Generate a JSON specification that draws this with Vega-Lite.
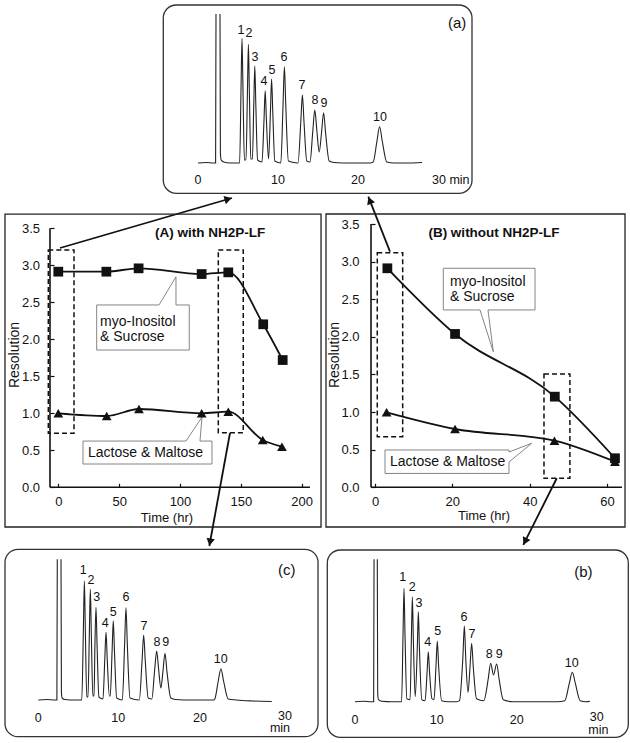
{
"$schema":"https://vega.github.io/schema/vega-lite/v6.json",
"padding":0,
"bounds":"flush",
"spacing":0,
"config":{"view":{"stroke":null},"font":"Liberation Sans","axis":{"grid":false,"domain":false,"labelFont":"Liberation Sans","labelFontSize":13,"labelColor":"#111","tickColor":"#111","tickWidth":1.2,"labelFlush":false,"labelOverlap":false,"titleOpacity":0}},
"datasets":{
"ca":[{"t":0,"h":0,"s":1},{"t":1,"h":0.5,"s":1},{"t":2,"h":0,"s":1},{"t":2.2,"h":0,"s":1},{"t":2.25,"h":149,"s":1},
{"t":2.75,"h":149,"s":2},{"t":2.8,"h":10,"s":2},{"t":2.9,"h":3,"s":2},{"t":3.2,"h":1,"s":2},{"t":4,"h":0,"s":2},{"t":5,"h":0,"s":2},{"t":5.2,"h":0,"s":2},{"t":5.38,"h":75,"s":2},{"t":5.5,"h":124.7,"s":2},{"t":5.62,"h":75,"s":2},{"t":5.8,"h":3,"s":2},{"t":6.0,"h":3,"s":2},{"t":6.18,"h":71,"s":2},{"t":6.3,"h":118.7,"s":2},{"t":6.42,"h":71,"s":2},{"t":6.6,"h":4,"s":2},{"t":6.8,"h":4,"s":2},{"t":6.97,"h":58,"s":2},{"t":7.1,"h":97,"s":2},{"t":7.23,"h":58,"s":2},{"t":7.45,"h":3,"s":2},{"t":8.0,"h":1,"s":2},{"t":8.25,"h":43,"s":2},{"t":8.4,"h":72.3,"s":2},{"t":8.55,"h":43,"s":2},{"t":8.82,"h":4,"s":2},{"t":9.05,"h":50,"s":2},{"t":9.2,"h":84,"s":2},{"t":9.35,"h":50,"s":2},{"t":9.6,"h":2,"s":2},{"t":10.35,"h":0,"s":2},{"t":10.63,"h":58,"s":2},{"t":10.8,"h":96.3,"s":2},{"t":10.97,"h":58,"s":2},{"t":11.3,"h":2,"s":2},{"t":12.5,"h":0,"s":2},{"t":12.85,"h":41,"s":2},{"t":13.05,"h":68,"s":2},{"t":13.25,"h":41,"s":2},{"t":13.6,"h":2,"s":2},{"t":14.0,"h":1,"s":2},{"t":14.35,"h":32,"s":2},{"t":14.6,"h":53,"s":2},{"t":14.85,"h":33,"s":2},{"t":15.15,"h":11,"s":2},{"t":15.45,"h":31,"s":2},{"t":15.7,"h":50.3,"s":2},{"t":15.95,"h":30,"s":2},{"t":16.4,"h":2,"s":2},{"t":17,"h":0.5,"s":2},{"t":19,"h":0,"s":2},{"t":21.5,"h":0,"s":2},{"t":21.9,"h":1,"s":2},{"t":22.37,"h":22,"s":2},{"t":22.7,"h":36.3,"s":2},{"t":23.03,"h":22,"s":2},{"t":23.6,"h":1,"s":2},{"t":24.5,"h":0,"s":2},{"t":26,"h":0,"s":2},{"t":28,"h":0.5,"s":2}],
"cb":[{"t":0,"h":0,"s":1},{"t":1,"h":0.5,"s":1},{"t":2,"h":0,"s":1},{"t":2.3,"h":0,"s":1},{"t":2.35,"h":142.4,"s":1},
{"t":2.75,"h":142.4,"s":2},{"t":2.8,"h":8,"s":2},{"t":2.9,"h":2,"s":2},{"t":3.3,"h":0.5,"s":2},{"t":4.5,"h":0,"s":2},{"t":5.75,"h":0,"s":2},{"t":5.93,"h":68,"s":2},{"t":6.05,"h":113.4,"s":2},{"t":6.17,"h":68,"s":2},{"t":6.4,"h":3,"s":2},{"t":6.8,"h":2,"s":2},{"t":6.96,"h":63,"s":2},{"t":7.08,"h":105,"s":2},{"t":7.2,"h":63,"s":2},{"t":7.43,"h":5,"s":2},{"t":7.69,"h":54,"s":2},{"t":7.82,"h":90,"s":2},{"t":7.95,"h":54,"s":2},{"t":8.25,"h":2,"s":2},{"t":8.65,"h":1,"s":2},{"t":8.9,"h":30,"s":2},{"t":9.05,"h":50,"s":2},{"t":9.2,"h":30,"s":2},{"t":9.5,"h":3,"s":2},{"t":9.75,"h":2,"s":2},{"t":10.0,"h":36,"s":2},{"t":10.16,"h":60.7,"s":2},{"t":10.32,"h":36,"s":2},{"t":10.7,"h":1,"s":2},{"t":11.5,"h":0,"s":2},{"t":12.6,"h":0,"s":2},{"t":12.9,"h":1,"s":2},{"t":13.32,"h":45,"s":2},{"t":13.5,"h":75.7,"s":2},{"t":13.68,"h":42,"s":2},{"t":13.95,"h":9.4,"s":2},{"t":14.2,"h":35,"s":2},{"t":14.4,"h":58.4,"s":2},{"t":14.6,"h":35,"s":2},{"t":15.0,"h":3,"s":2},{"t":15.9,"h":1,"s":2},{"t":16.45,"h":23,"s":2},{"t":16.75,"h":38.4,"s":2},{"t":17.1,"h":26.7,"s":2},{"t":17.49,"h":37.7,"s":2},{"t":17.8,"h":22,"s":2},{"t":18.3,"h":2,"s":2},{"t":19.5,"h":0,"s":2},{"t":22,"h":0,"s":2},{"t":25,"h":0,"s":2},{"t":25.9,"h":1,"s":2},{"t":26.45,"h":18,"s":2},{"t":26.83,"h":29.4,"s":2},{"t":27.21,"h":18,"s":2},{"t":27.8,"h":1,"s":2},{"t":28.5,"h":0,"s":2},{"t":29,"h":0.5,"s":2}],
"cc":[{"t":0,"h":0,"s":1},{"t":1,"h":0.5,"s":1},{"t":2.1,"h":0,"s":1},{"t":2.3,"h":0,"s":1},{"t":2.35,"h":140.7,"s":1},
{"t":2.81,"h":140.7,"s":2},{"t":2.86,"h":8,"s":2},{"t":2.95,"h":2,"s":2},{"t":3.3,"h":0.5,"s":2},{"t":4.5,"h":0,"s":2},{"t":5.38,"h":0,"s":2},{"t":5.58,"h":71,"s":2},{"t":5.7,"h":119,"s":2},{"t":5.82,"h":71,"s":2},{"t":6.0,"h":3,"s":2},{"t":6.15,"h":3,"s":2},{"t":6.32,"h":67,"s":2},{"t":6.44,"h":111,"s":2},{"t":6.56,"h":67,"s":2},{"t":6.75,"h":4,"s":2},{"t":6.9,"h":4,"s":2},{"t":7.01,"h":56,"s":2},{"t":7.14,"h":92.7,"s":2},{"t":7.27,"h":56,"s":2},{"t":7.5,"h":3,"s":2},{"t":8.0,"h":1,"s":2},{"t":8.23,"h":41,"s":2},{"t":8.38,"h":67.7,"s":2},{"t":8.53,"h":41,"s":2},{"t":8.8,"h":4,"s":2},{"t":8.9,"h":4,"s":2},{"t":9.13,"h":48,"s":2},{"t":9.28,"h":79.3,"s":2},{"t":9.43,"h":48,"s":2},{"t":9.7,"h":2,"s":2},{"t":10.4,"h":0,"s":2},{"t":10.68,"h":55,"s":2},{"t":10.85,"h":92.3,"s":2},{"t":11.02,"h":55,"s":2},{"t":11.35,"h":2,"s":2},{"t":12.5,"h":0,"s":2},{"t":12.84,"h":39,"s":2},{"t":13.04,"h":65,"s":2},{"t":13.24,"h":39,"s":2},{"t":13.6,"h":2,"s":2},{"t":14.05,"h":1,"s":2},{"t":14.4,"h":30,"s":2},{"t":14.65,"h":49,"s":2},{"t":14.9,"h":30,"s":2},{"t":15.17,"h":12,"s":2},{"t":15.43,"h":29,"s":2},{"t":15.68,"h":46.7,"s":2},{"t":15.93,"h":28,"s":2},{"t":16.4,"h":2,"s":2},{"t":17,"h":0.5,"s":2},{"t":19,"h":0,"s":2},{"t":21.7,"h":0,"s":2},{"t":21.85,"h":1,"s":2},{"t":22.27,"h":19,"s":2},{"t":22.6,"h":31.3,"s":2},{"t":22.93,"h":19,"s":2},{"t":23.5,"h":1,"s":2},{"t":24.5,"h":0,"s":2},{"t":26.5,"h":-1,"s":2},{"t":28.9,"h":-1.5,"s":2}],
"la":[{"t":5.375,"h":133,"label":"1"},{"t":6.375,"h":130,"label":"2"},{"t":7.125,"h":106,"label":"3"},{"t":8.25,"h":82,"label":"4"},{"t":9.25,"h":93,"label":"5"},{"t":10.75,"h":106,"label":"6"},{"t":13,"h":78,"label":"7"},{"t":14.625,"h":63,"label":"8"},{"t":15.75,"h":60,"label":"9"},{"t":22.75,"h":46,"label":"10"},{"t":0,"h":-17,"label":"0"},{"t":10,"h":-17,"label":"10"},{"t":20,"h":-17,"label":"20"},{"t":31.6,"h":-17,"label":"30 min"}],
"lc":[{"t":5.57,"h":130,"label":"1"},{"t":6.52,"h":120,"label":"2"},{"t":7.23,"h":103.3,"label":"3"},{"t":8.29,"h":76.7,"label":"4"},{"t":9.28,"h":88.3,"label":"5"},{"t":10.85,"h":102.7,"label":"6"},{"t":13.08,"h":74,"label":"7"},{"t":14.69,"h":58.3,"label":"8"},{"t":15.77,"h":57.7,"label":"9"},{"t":22.57,"h":40.7,"label":"10"},{"t":0,"h":-18.3,"label":"0"},{"t":9.9,"h":-18.3,"label":"10"},{"t":20.01,"h":-18.3,"label":"20"},{"t":30.53,"h":-15.5,"label":"30"},{"t":29.91,"h":-28,"label":"min"}],
"lb":[{"t":5.89,"h":124.4,"label":"1"},{"t":7.07,"h":115,"label":"2"},{"t":7.9,"h":98.4,"label":"3"},{"t":8.98,"h":60,"label":"4"},{"t":10.21,"h":71,"label":"5"},{"t":13.46,"h":85,"label":"6"},{"t":14.44,"h":67.7,"label":"7"},{"t":16.58,"h":47.7,"label":"8"},{"t":17.81,"h":47.7,"label":"9"},{"t":26.75,"h":39,"label":"10"},{"t":0,"h":-18.3,"label":"0"},{"t":10.09,"h":-18.3,"label":"10"},{"t":19.96,"h":-18.3,"label":"20"},{"t":29.84,"h":-15.5,"label":"30"},{"t":30.04,"h":-28,"label":"min"}],
"pa":[{"t":32.4,"h":140,"label":"(a)"}],
"pc":[{"t":30.74,"h":130,"label":"(c)"}],
"pb":[{"t":28.19,"h":130,"label":"(b)"}],
"fa":[{"t":-4.34,"t2":34.25,"h":158,"h2":-30.3}],
"fc":[{"t":-4.12,"t2":34.62,"h":150.7,"h2":-36.7}],
"fb":[{"t":-3.42,"t2":33.74,"h":151.7,"h2":-35.6}],
"ara":[{"t":-17.25,"h":-85,"t2":4.25,"h2":-35},{"t":24,"h":-88.7,"t2":21.29,"h2":-33.7}],
"hda1":[{"t":3.77,"h":-36.1}],
"hda2":[{"t":21.47,"h":-37.4}],
"frA":[{"hr":-43.8,"hr2":215.9,"r":3.693,"r2":-0.536}],
"frB":[{"hr":-12.67,"hr2":64.65,"r":3.634,"r2":-0.528}],
"axA":[{"hr":-6.82,"r":0,"hr2":-6.82,"r2":3.5},{"hr":-6.82,"r":0,"hr2":206.8,"r2":0}],
"axB":[{"hr":-1.03,"r":0,"hr2":-1.03,"r2":3.5},{"hr":-1.03,"r":0,"hr2":63.87,"r2":0}],
"dA":[{"hr":-8.2,"hr2":12.9,"r":3.207,"r2":0.73},{"hr":131.5,"hr2":152.0,"r":3.207,"r2":0.738}],
"dB":[{"hr":0.59,"hr2":7.16,"r":3.12,"r2":0.673},{"hr":43.7,"hr2":50.4,"r":1.507,"r2":0.12}],
"resA":[{"hr":0,"r":1.0,"pair":"Lactose & Maltose"},{"hr":39.8,"r":0.964,"pair":"Lactose & Maltose"},{"hr":66.3,"r":1.058,"pair":"Lactose & Maltose"},{"hr":117.8,"r":1.0,"pair":"Lactose & Maltose"},{"hr":139.7,"r":1.022,"pair":"Lactose & Maltose"},{"hr":168,"r":0.639,"pair":"Lactose & Maltose"},{"hr":183.8,"r":0.549,"pair":"Lactose & Maltose"},
{"hr":0,"r":2.914,"pair":"myo-Inositol & Sucrose"},{"hr":39.5,"r":2.914,"pair":"myo-Inositol & Sucrose"},{"hr":66,"r":2.959,"pair":"myo-Inositol & Sucrose"},{"hr":117.8,"r":2.882,"pair":"myo-Inositol & Sucrose"},{"hr":139.7,"r":2.905,"pair":"myo-Inositol & Sucrose"},{"hr":168.4,"r":2.203,"pair":"myo-Inositol & Sucrose"},{"hr":184.4,"r":1.72,"pair":"myo-Inositol & Sucrose"}],
"resB":[{"hr":3.0,"r":0.997,"pair":"Lactose & Maltose"},{"hr":20.7,"r":0.775,"pair":"Lactose & Maltose"},{"hr":46.4,"r":0.62,"pair":"Lactose & Maltose"},{"hr":62.06,"r":0.34,"pair":"Lactose & Maltose"},
{"hr":3.2,"r":2.912,"pair":"myo-Inositol & Sucrose"},{"hr":20.7,"r":2.039,"pair":"myo-Inositol & Sucrose"},{"hr":46.5,"r":1.205,"pair":"myo-Inositol & Sucrose"},{"hr":62.06,"r":0.386,"pair":"myo-Inositol & Sucrose"}],
"coA":[{"hr":31.55,"r":2.464,"id":1,"i":1},{"hr":82.74,"r":2.464,"id":1,"i":2},{"hr":96.71,"r":2.845,"id":1,"i":3},{"hr":96.71,"r":2.464,"id":1,"i":4},{"hr":107.64,"r":2.464,"id":1,"i":5},{"hr":107.64,"r":1.855,"id":1,"i":6},{"hr":31.55,"r":1.855,"id":1,"i":7},{"hr":31.55,"r":2.464,"id":1,"i":8},
{"hr":20.3,"r":0.625,"id":2,"i":1},{"hr":104.93,"r":0.625,"id":2,"i":2},{"hr":118.08,"r":0.949,"id":2,"i":3},{"hr":116.43,"r":0.625,"id":2,"i":4},{"hr":126.29,"r":0.625,"id":2,"i":5},{"hr":126.29,"r":0.315,"id":2,"i":6},{"hr":20.3,"r":0.315,"id":2,"i":7},{"hr":20.3,"r":0.625,"id":2,"i":8}],
"coB":[{"hr":17.66,"r":2.912,"id":1,"i":1},{"hr":41.38,"r":2.912,"id":1,"i":2},{"hr":41.38,"r":2.358,"id":1,"i":3},{"hr":29.22,"r":2.358,"id":1,"i":4},{"hr":30.59,"r":1.803,"id":1,"i":5},{"hr":27.15,"r":2.358,"id":1,"i":6},{"hr":17.66,"r":2.358,"id":1,"i":7},{"hr":17.66,"r":2.912,"id":1,"i":8},
{"hr":2.586,"r":0.496,"id":2,"i":1},{"hr":34.65,"r":0.496,"id":2,"i":2},{"hr":34.65,"r":0.469,"id":2,"i":3},{"hr":40.52,"r":0.585,"id":2,"i":4},{"hr":34.65,"r":0.336,"id":2,"i":5},{"hr":34.65,"r":0.184,"id":2,"i":6},{"hr":2.586,"r":0.184,"id":2,"i":7},{"hr":2.586,"r":0.496,"id":2,"i":8}],
"ctA":[{"hr":34.3,"r":2.23,"text":"myo-Inositol"},{"hr":34.3,"r":2.027,"text":"& Sucrose"},{"hr":24.4,"r":0.464,"text":"Lactose & Maltose"}],
"ctB":[{"hr":19.4,"r":2.73,"text":"myo-Inositol"},{"hr":19.4,"r":2.524,"text":"& Sucrose"},{"hr":3.88,"r":0.34,"text":"Lactose & Maltose"}],
"ttA":[{"hr":124.7,"r":3.436,"text":"(A) with NH2P-LF"}],
"ttB":[{"hr":30.77,"r":3.378,"text":"(B) without NH2P-LF"}],
"atA":[{"hr":89.3,"r":-0.41,"text":"Time (hr)"}],
"atB":[{"hr":28.2,"r":-0.38,"text":"Time (hr)"}],
"rtA":[{"hr":-35.6,"r":1.788,"text":"Resolution"}],
"rtB":[{"hr":-10.34,"r":1.759,"text":"Resolution"}],
"arA":[{"hr":141.1,"r":0.734,"hr2":124.1,"r2":-0.793}],
"hdA":[{"hr":124.7,"r":-0.74}],
"arB":[{"hr":47.0,"r":0.12,"hr2":38.35,"r2":-0.767}],
"hdB":[{"hr":38.8,"r":-0.72}]
},
"vconcat":[
{"width":630,"height":207,
 "layer":[
  {"data":{"name":"fa"},"mark":{"type":"rect","filled":false,"stroke":"#333","strokeWidth":1.3,"cornerRadius":13},
   "encoding":{"x":{"field":"t","type":"quantitative","scale":{"domain":[-24.75,54],"nice":false,"zero":false},"axis":null},"x2":{"field":"t2"},"y":{"field":"h","type":"quantitative","scale":{"domain":[-44,163],"nice":false,"zero":false},"axis":null},"y2":{"field":"h2"}}},
  {"data":{"name":"ca"},"mark":{"type":"line","interpolate":"monotone","color":"#222","strokeWidth":1.1},
   "encoding":{"x":{"field":"t","type":"quantitative","axis":null},"y":{"field":"h","type":"quantitative","axis":null},"detail":{"field":"s","type":"nominal"}}},
  {"data":{"name":"la"},"mark":{"type":"text","fontSize":12.5,"color":"#111"},
   "encoding":{"x":{"field":"t","type":"quantitative","axis":null},"y":{"field":"h","type":"quantitative","axis":null},"text":{"field":"label"}}},
  {"data":{"name":"pa"},"mark":{"type":"text","fontSize":15,"color":"#111"},
   "encoding":{"x":{"field":"t","type":"quantitative","axis":null},"y":{"field":"h","type":"quantitative","axis":null},"text":{"field":"label"}}},
  {"data":{"name":"ara"},"mark":{"type":"rule","color":"#111","strokeWidth":1.8},
   "encoding":{"x":{"field":"t","type":"quantitative","axis":null},"x2":{"field":"t2"},"y":{"field":"h","type":"quantitative","axis":null},"y2":{"field":"h2"}}},
  {"data":{"name":"hda1"},"mark":{"type":"point","shape":"triangle-up","filled":true,"color":"#111","size":70,"angle":73.8,"opacity":1},
   "encoding":{"x":{"field":"t","type":"quantitative","axis":null},"y":{"field":"h","type":"quantitative","axis":null}}},
  {"data":{"name":"hda2"},"mark":{"type":"point","shape":"triangle-up","filled":true,"color":"#111","size":70,"angle":338.5,"opacity":1},
   "encoding":{"x":{"field":"t","type":"quantitative","axis":null},"y":{"field":"h","type":"quantitative","axis":null}}}
 ]},
{"width":630,"height":333,
 "resolve":{"scale":{"x":"independent","y":"independent"},"axis":{"x":"independent","y":"independent"}},
 "layer":[
 {"layer":[
   {"data":{"name":"frA"},"mark":{"type":"rect","filled":false,"stroke":"#222","strokeWidth":1.3},
    "encoding":{"x":{"field":"hr","type":"quantitative","scale":{"domain":[-47.9,469.8],"nice":false,"zero":false},"axis":{"orient":"bottom","offset":-52.7,"values":[0,50,100,150,200],"title":null,"labelPadding":12,"tickSize":-4}},"x2":{"field":"hr2"},"y":{"field":"r","type":"quantitative","scale":{"domain":[-0.712,3.788],"nice":false,"zero":false},"axis":{"orient":"left","offset":-50,"values":[0,0.5,1,1.5,2,2.5,3,3.5],"format":".1f","title":null,"labelPadding":14.5,"tickSize":-4}},"y2":{"field":"r2"}}},
   {"data":{"name":"axA"},"mark":{"type":"rule","color":"#111","strokeWidth":1.6},
    "encoding":{"x":{"field":"hr","type":"quantitative"},"x2":{"field":"hr2"},"y":{"field":"r","type":"quantitative"},"y2":{"field":"r2"}}},
   {"data":{"name":"dA"},"mark":{"type":"rect","filled":false,"stroke":"#111","strokeWidth":1.5,"strokeDash":[5,3]},
    "encoding":{"x":{"field":"hr","type":"quantitative"},"x2":{"field":"hr2"},"y":{"field":"r","type":"quantitative"},"y2":{"field":"r2"}}},
   {"data":{"name":"coA"},"mark":{"type":"line","color":"#777","strokeWidth":0.9},
    "encoding":{"x":{"field":"hr","type":"quantitative"},"y":{"field":"r","type":"quantitative"},"detail":{"field":"id","type":"nominal"},"order":{"field":"i","type":"quantitative"}}},
   {"data":{"name":"ctA"},"mark":{"type":"text","align":"left","fontSize":14,"color":"#111"},
    "encoding":{"x":{"field":"hr","type":"quantitative"},"y":{"field":"r","type":"quantitative"},"text":{"field":"text"}}},
   {"data":{"name":"resA"},"mark":{"type":"line","interpolate":"monotone","color":"#111","strokeWidth":1.8},
    "encoding":{"x":{"field":"hr","type":"quantitative"},"y":{"field":"r","type":"quantitative"},"detail":{"field":"pair","type":"nominal"}}},
   {"data":{"name":"resA"},"mark":{"type":"point","filled":true,"color":"#111","opacity":1,"size":95},
    "encoding":{"x":{"field":"hr","type":"quantitative"},"y":{"field":"r","type":"quantitative"},"shape":{"field":"pair","type":"nominal","scale":{"domain":["myo-Inositol & Sucrose","Lactose & Maltose"],"range":["square","triangle-up"]},"legend":null}}},
   {"data":{"name":"ttA"},"mark":{"type":"text","fontSize":13.5,"fontWeight":"bold","color":"#111"},
    "encoding":{"x":{"field":"hr","type":"quantitative"},"y":{"field":"r","type":"quantitative"},"text":{"field":"text"}}},
   {"data":{"name":"atA"},"mark":{"type":"text","fontSize":13,"color":"#111"},
    "encoding":{"x":{"field":"hr","type":"quantitative"},"y":{"field":"r","type":"quantitative"},"text":{"field":"text"}}},
   {"data":{"name":"rtA"},"mark":{"type":"text","fontSize":14,"angle":270,"color":"#111"},
    "encoding":{"x":{"field":"hr","type":"quantitative"},"y":{"field":"r","type":"quantitative"},"text":{"field":"text"}}},
   {"data":{"name":"arA"},"mark":{"type":"rule","color":"#111","strokeWidth":1.8},
    "encoding":{"x":{"field":"hr","type":"quantitative"},"x2":{"field":"hr2"},"y":{"field":"r","type":"quantitative"},"y2":{"field":"r2"}}},
   {"data":{"name":"hdA"},"mark":{"type":"point","shape":"triangle-up","filled":true,"color":"#111","size":70,"angle":190.4,"opacity":1},
    "encoding":{"x":{"field":"hr","type":"quantitative"},"y":{"field":"r","type":"quantitative"}}}
 ]},
 {"layer":[
   {"data":{"name":"frB"},"mark":{"type":"rect","filled":false,"stroke":"#222","strokeWidth":1.3},
    "encoding":{"x":{"field":"hr","type":"quantitative","scale":{"domain":[-96.97,65.94],"nice":false,"zero":false},"axis":{"orient":"bottom","offset":-52.7,"values":[0,20,40,60],"title":null,"labelPadding":12,"tickSize":-4}},"x2":{"field":"hr2"},"y":{"field":"r","type":"quantitative","scale":{"domain":[-0.701,3.727],"nice":false,"zero":false},"axis":{"orient":"left","offset":-371,"values":[0,0.5,1,1.5,2,2.5,3,3.5],"format":".1f","title":null,"labelPadding":16,"tickSize":-4}},"y2":{"field":"r2"}}},
   {"data":{"name":"axB"},"mark":{"type":"rule","color":"#111","strokeWidth":1.6},
    "encoding":{"x":{"field":"hr","type":"quantitative"},"x2":{"field":"hr2"},"y":{"field":"r","type":"quantitative"},"y2":{"field":"r2"}}},
   {"data":{"name":"dB"},"mark":{"type":"rect","filled":false,"stroke":"#111","strokeWidth":1.5,"strokeDash":[5,3]},
    "encoding":{"x":{"field":"hr","type":"quantitative"},"x2":{"field":"hr2"},"y":{"field":"r","type":"quantitative"},"y2":{"field":"r2"}}},
   {"data":{"name":"coB"},"mark":{"type":"line","color":"#777","strokeWidth":0.9},
    "encoding":{"x":{"field":"hr","type":"quantitative"},"y":{"field":"r","type":"quantitative"},"detail":{"field":"id","type":"nominal"},"order":{"field":"i","type":"quantitative"}}},
   {"data":{"name":"ctB"},"mark":{"type":"text","align":"left","fontSize":14,"color":"#111"},
    "encoding":{"x":{"field":"hr","type":"quantitative"},"y":{"field":"r","type":"quantitative"},"text":{"field":"text"}}},
   {"data":{"name":"resB"},"mark":{"type":"line","interpolate":"monotone","color":"#111","strokeWidth":1.8},
    "encoding":{"x":{"field":"hr","type":"quantitative"},"y":{"field":"r","type":"quantitative"},"detail":{"field":"pair","type":"nominal"}}},
   {"data":{"name":"resB"},"mark":{"type":"point","filled":true,"color":"#111","opacity":1,"size":95},
    "encoding":{"x":{"field":"hr","type":"quantitative"},"y":{"field":"r","type":"quantitative"},"shape":{"field":"pair","type":"nominal","scale":{"domain":["myo-Inositol & Sucrose","Lactose & Maltose"],"range":["square","triangle-up"]},"legend":null}}},
   {"data":{"name":"ttB"},"mark":{"type":"text","fontSize":13.5,"fontWeight":"bold","color":"#111"},
    "encoding":{"x":{"field":"hr","type":"quantitative"},"y":{"field":"r","type":"quantitative"},"text":{"field":"text"}}},
   {"data":{"name":"atB"},"mark":{"type":"text","fontSize":13,"color":"#111"},
    "encoding":{"x":{"field":"hr","type":"quantitative"},"y":{"field":"r","type":"quantitative"},"text":{"field":"text"}}},
   {"data":{"name":"rtB"},"mark":{"type":"text","fontSize":14,"angle":270,"color":"#111"},
    "encoding":{"x":{"field":"hr","type":"quantitative"},"y":{"field":"r","type":"quantitative"},"text":{"field":"text"}}},
   {"data":{"name":"arB"},"mark":{"type":"rule","color":"#111","strokeWidth":1.8},
    "encoding":{"x":{"field":"hr","type":"quantitative"},"x2":{"field":"hr2"},"y":{"field":"r","type":"quantitative"},"y2":{"field":"r2"}}},
   {"data":{"name":"hdB"},"mark":{"type":"point","shape":"triangle-up","filled":true,"color":"#111","size":70,"angle":206.6,"opacity":1},
    "encoding":{"x":{"field":"hr","type":"quantitative"},"y":{"field":"r","type":"quantitative"}}}
 ]}
 ]},
{"width":630,"height":203,
 "resolve":{"scale":{"x":"independent","y":"independent"}},
 "layer":[
 {"layer":[
   {"data":{"name":"fc"},"mark":{"type":"rect","filled":false,"stroke":"#333","strokeWidth":1.3,"cornerRadius":13},
    "encoding":{"x":{"field":"t","type":"quantitative","scale":{"domain":[-4.74,73.23],"nice":false,"zero":false},"axis":null},"x2":{"field":"t2"},"y":{"field":"h","type":"quantitative","scale":{"domain":[-43,160],"nice":false,"zero":false},"axis":null},"y2":{"field":"h2"}}},
   {"data":{"name":"cc"},"mark":{"type":"line","interpolate":"monotone","color":"#222","strokeWidth":1.1},
    "encoding":{"x":{"field":"t","type":"quantitative","axis":null},"y":{"field":"h","type":"quantitative","axis":null},"detail":{"field":"s","type":"nominal"}}},
   {"data":{"name":"lc"},"mark":{"type":"text","fontSize":12.5,"color":"#111"},
    "encoding":{"x":{"field":"t","type":"quantitative","axis":null},"y":{"field":"h","type":"quantitative","axis":null},"text":{"field":"label"}}},
   {"data":{"name":"pc"},"mark":{"type":"text","fontSize":15,"color":"#111"},
    "encoding":{"x":{"field":"t","type":"quantitative","axis":null},"y":{"field":"h","type":"quantitative","axis":null},"text":{"field":"label"}}}
 ]},
 {"layer":[
   {"data":{"name":"fb"},"mark":{"type":"rect","filled":false,"stroke":"#333","strokeWidth":1.3,"cornerRadius":13},
    "encoding":{"x":{"field":"t","type":"quantitative","scale":{"domain":[-43.83,33.95],"nice":false,"zero":false},"axis":null},"x2":{"field":"t2"},"y":{"field":"h","type":"quantitative","scale":{"domain":[-41.3,161.7],"nice":false,"zero":false},"axis":null},"y2":{"field":"h2"}}},
   {"data":{"name":"cb"},"mark":{"type":"line","interpolate":"monotone","color":"#222","strokeWidth":1.1},
    "encoding":{"x":{"field":"t","type":"quantitative","axis":null},"y":{"field":"h","type":"quantitative","axis":null},"detail":{"field":"s","type":"nominal"}}},
   {"data":{"name":"lb"},"mark":{"type":"text","fontSize":12.5,"color":"#111"},
    "encoding":{"x":{"field":"t","type":"quantitative","axis":null},"y":{"field":"h","type":"quantitative","axis":null},"text":{"field":"label"}}},
   {"data":{"name":"pb"},"mark":{"type":"text","fontSize":15,"color":"#111"},
    "encoding":{"x":{"field":"t","type":"quantitative","axis":null},"y":{"field":"h","type":"quantitative","axis":null},"text":{"field":"label"}}}
 ]}
 ]}
]
}
